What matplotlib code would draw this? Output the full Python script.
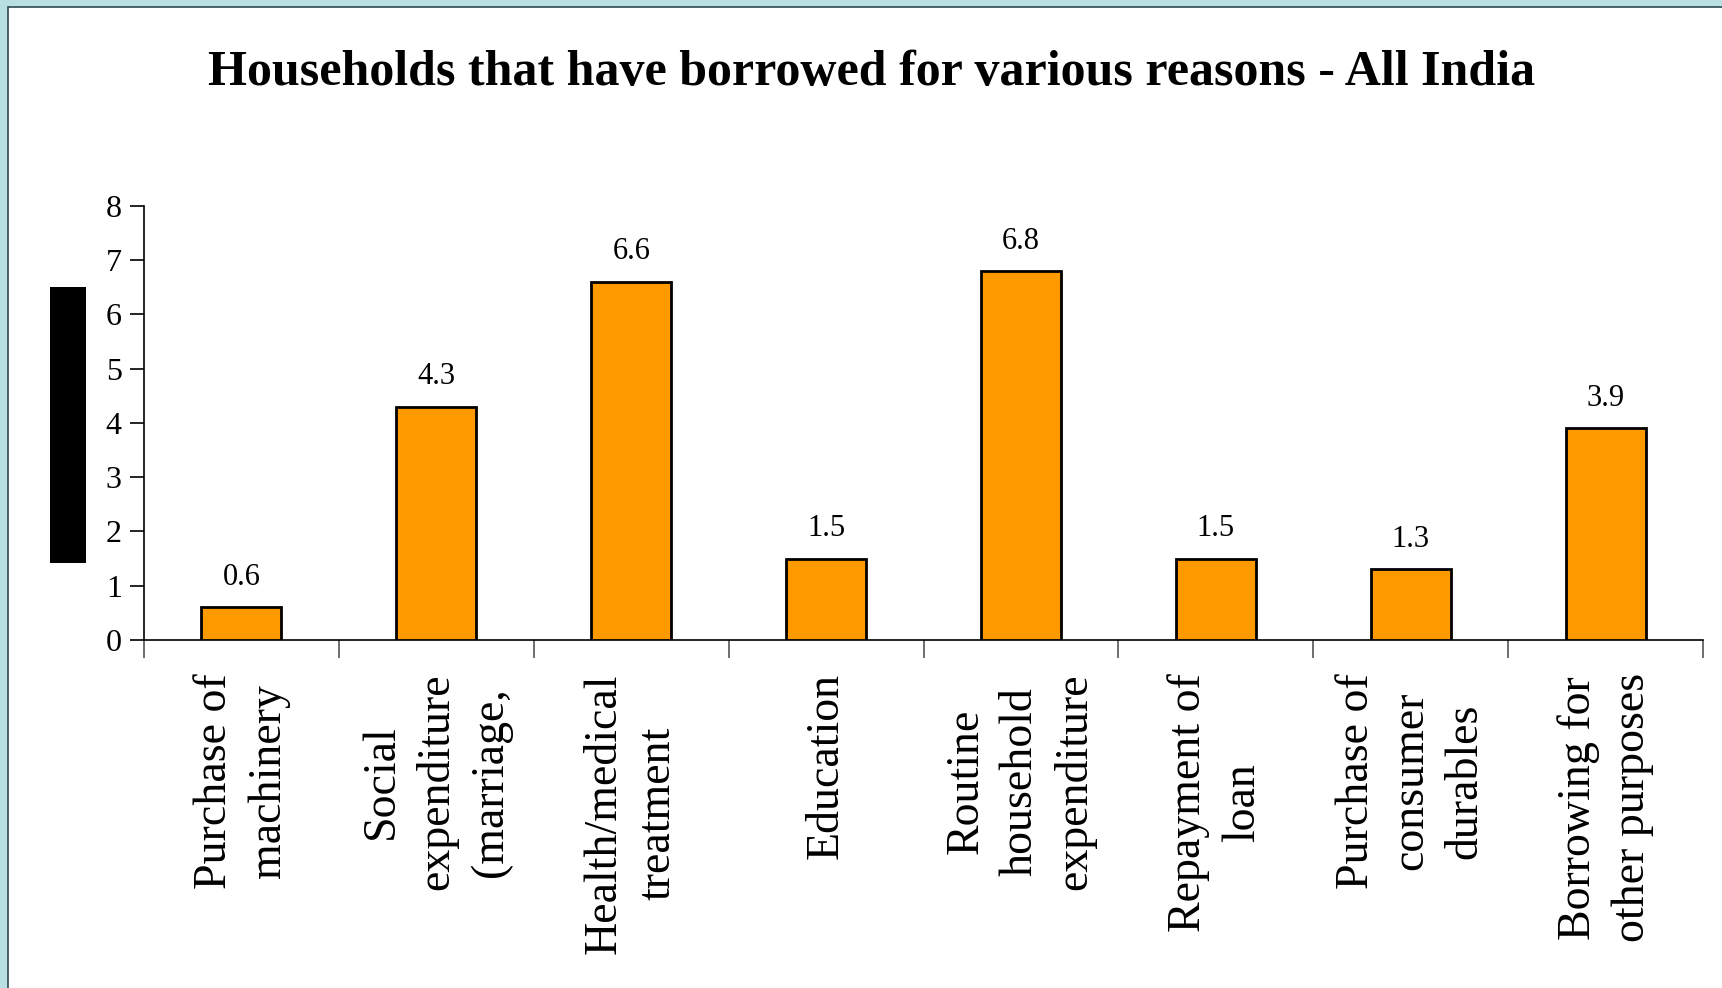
import matplotlib.pyplot as plt
from matplotlib.patches import Rectangle
import numpy as np

# households borrowing by reason (%)
reasons = ['Purchase of\nmachinery',
           'Social\nexpenditure\n(marriage,',
           'Health/medical\ntreatment',
           'Education',
           'Routine\nhousehold\nexpenditure',
           'Repayment of\nloan',
           'Purchase of\nconsumer\ndurables',
           'Borrowing for\nother purposes']
share = [0.6, 4.3, 6.6, 1.5, 6.8, 1.5, 1.3, 3.9]

W, H = 1722, 988
fig = plt.figure(figsize=(W / 100, H / 100), dpi=100)
fig.patch.set_facecolor('#b8dfe2')

# white slide panel with dark outline
fig.patches.append(Rectangle((8 / W, -0.1), 1.1, (H - 7) / H + 0.1,
                             transform=fig.transFigure, facecolor='white',
                             edgecolor='#2e4a4e', linewidth=1.2, zorder=-5))

ax = fig.add_axes([144 / W, 1 - 640 / H, (1703 - 144) / W, (640 - 205.7) / H])
ax.set_facecolor('none')
ax.set_zorder(2)

x = np.arange(len(share))
bars = ax.bar(x, share, width=0.41, color='#ff9900', edgecolor='black',
              linewidth=2.0, zorder=3)
ax.bar_label(bars, labels=[f'{v:.1f}' for v in share], padding=11,
             fontsize=22, family='Liberation Serif')

ax.set_xlim(-0.5, len(share) - 0.5)
ax.set_ylim(0, 8)
ax.set_yticks(range(0, 9))
ax.tick_params(axis='y', direction='out', length=10, width=1.2, pad=6,
               labelsize=23)
for lab in ax.get_yticklabels():
    lab.set_family('Liberation Serif')

# boundary ticks between categories, labels on the centers
ax.set_xticks(np.arange(-0.5, len(share), 1.0))
ax.set_xticklabels([])
ax.tick_params(axis='x', which='major', direction='out', length=13,
               width=1.2, color='#555555')
ax.set_xticks(x, minor=True)
ax.set_xticklabels(reasons, minor=True, rotation=90, ha='center', va='top',
                   multialignment='center', fontsize=33,
                   family='Liberation Serif', linespacing=1.36)
ax.tick_params(axis='x', which='minor', length=0, pad=24)

for side in ['top', 'right']:
    ax.spines[side].set_visible(False)
ax.spines['left'].set_linewidth(1.2)
ax.spines['bottom'].set_linewidth(1.2)

fig.text(872 / W, 1 - 85 / H, 'Households that have borrowed for various reasons - All India',
         ha='center', va='baseline', fontsize=36, fontweight='bold',
         family='Liberation Serif')

# filled block left of the value axis
fig.patches.append(Rectangle((50 / W, 1 - 562.7 / H), 36 / W, 275.7 / H,
                             transform=fig.transFigure, facecolor='black',
                             edgecolor='none', zorder=2))

fig.savefig('out.png', dpi=100, facecolor=fig.get_facecolor())
